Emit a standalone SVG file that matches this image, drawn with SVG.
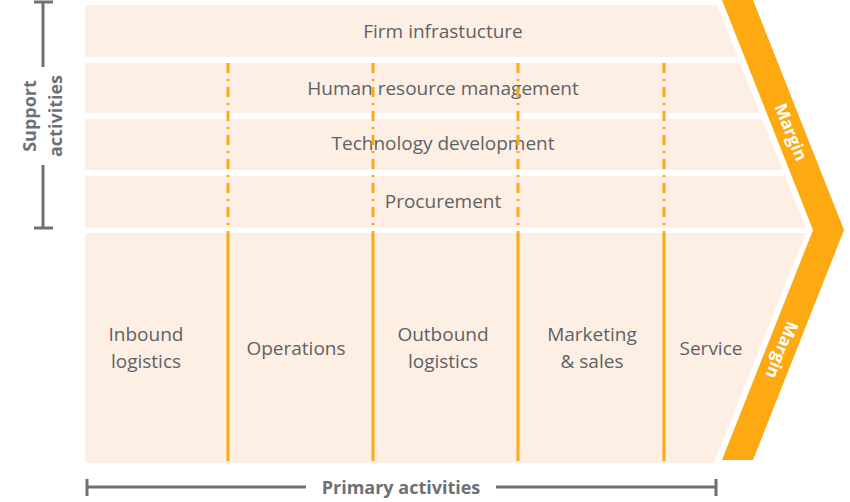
<svg xmlns="http://www.w3.org/2000/svg" width="850" height="502" viewBox="0 0 850 502">
<style>
.row{fill:#fdefe4}
.t{font-family:"Open Sans",sans-serif;font-size:19px;fill:#5d6266;text-anchor:middle}
.m{font-family:"Open Sans",sans-serif;font-size:17px;font-weight:bold;fill:#fff;text-anchor:middle}
.g{font-family:"Open Sans",sans-serif;font-size:18px;font-weight:bold;fill:#6d7175;text-anchor:middle}
.br{stroke:#6d7175;stroke-width:3;fill:none}
.sol{stroke:#fda912;stroke-width:3}
.dash{stroke:#fda912;stroke-width:3;stroke-dasharray:10 6 2 6}
</style>
<g id="margin"><polygon points="722,0 753,0 844,230 753,460 722,460 813,230" fill="#fda912"/>
<text class="m" transform="translate(791,132) rotate(68)" dy="6">Margin</text>
<text class="m" transform="translate(782,350) rotate(112)" dy="6">Margin</text></g>
<g id="firm"><polygon class="row" points="85,5 717,5 738,57 85,57"/><text class="t" x="443" y="38">Firm infrastucture</text></g>
<g id="hr"><polygon class="row" points="85,63 740,63 760,113 85,113"/><text class="t" x="443" y="95">Human resource management</text></g>
<g id="tech"><polygon class="row" points="85,119 762,119 783,170 85,170"/><text class="t" x="443" y="150">Technology development</text></g>
<g id="proc"><polygon class="row" points="85,176 785,176 806,228 85,228"/><text class="t" x="443" y="208">Procurement</text></g>
<g id="primary"><polygon class="row" points="85,233 806,233 714,463 85,463"/>
<text class="t" x="146" y="341">Inbound</text><text class="t" x="146" y="368">logistics</text>
<text class="t" x="296" y="355">Operations</text>
<text class="t" x="443" y="341">Outbound</text><text class="t" x="443" y="368">logistics</text>
<text class="t" x="592" y="341">Marketing</text><text class="t" x="592" y="368">&amp; sales</text>
<text class="t" x="711" y="355">Service</text></g>
<g id="connectors">
<line class="dash" x1="228" y1="63" x2="228" y2="233"/><line class="dash" x1="373" y1="63" x2="373" y2="233"/>
<line class="dash" x1="518" y1="63" x2="518" y2="233"/><line class="dash" x1="664" y1="63" x2="664" y2="233"/>
<line class="sol" x1="228" y1="233" x2="228" y2="461"/><line class="sol" x1="373" y1="233" x2="373" y2="461"/>
<line class="sol" x1="518" y1="233" x2="518" y2="461"/><line class="sol" x1="664" y1="233" x2="664" y2="461"/>
</g>
<g id="support-bracket">
<path class="br" d="M34,2H53M43,2V67M43,165V228M34,228H53"/>
<text class="g" transform="translate(36,116) rotate(-90)">Support</text>
<text class="g" transform="translate(62,116) rotate(-90)">activities</text></g>
<g id="primary-bracket">
<path class="br" d="M87,479V496M87,487H306M496,487H716M716,479V496"/>
<text class="g" x="401" y="494">Primary activities</text></g>
</svg>
